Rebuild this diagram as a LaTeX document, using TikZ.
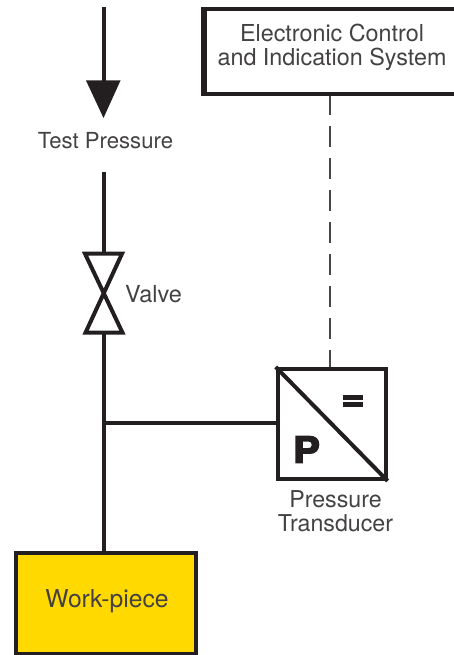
\documentclass[tikz,border=0pt]{standalone}
\usepackage{fontspec}
\setmainfont{TeX Gyre Heros}
\newfontfamily\heavyfont[FakeBold=4,FakeStretch=1.12]{TeX Gyre Heros Bold}
\definecolor{ink}{HTML}{231F20}
\definecolor{soft}{HTML}{444142}
\definecolor{dashgrey}{HTML}{4A4748}
\definecolor{workyellow}{HTML}{FFD900}
\tikzset{
 x=0.75pt,y=-0.75pt,
 lbl/.style={text=soft,align=center,inner sep=0pt},
 pipe/.style={draw=ink,line width=3pt},
 boxline/.style={draw=ink,line width=3pt},
}
\begin{document}
\begin{tikzpicture}
\useasboundingbox (0,0) rectangle (453,655);
\coordinate (top) at (103.5,7);
\coordinate (headbase) at (103.5,81);
\coordinate (tip) at (103.5,118);
\coordinate (pipetop) at (103.5,172);
\coordinate (valveT) at (103.5,254);
\coordinate (valveB) at (103.5,333);
\coordinate (tee) at (103.5,422.5);
\coordinate (wtop) at (103.5,553);
\draw[pipe] (top) -- (headbase);
\fill[ink] (86,80.5) -- (120.5,80.5) -- (tip) -- cycle;
\node[lbl,font=\fontsize{16.6}{19}\selectfont] (tp) at (105.5,141) {Test Pressure};
\draw[pipe] (pipetop) -- (valveT);
\draw[pipe] (85,253.7) -- (122,253.7) -- (85.5,332.7) -- (122.5,332.7) -- cycle;
\node[lbl,font=\fontsize{17.6}{19}\selectfont] (valve) at (153.5,294) {Valve};
\draw[pipe] (valveB) -- (wtop);
\node[boxline,fill=white,minimum width=199.5pt,minimum height=63.4pt] (ecs) at (337.5,51.7) {};
\draw[draw=ink,line width=4pt] ([xshift=1.1pt]ecs.north west) -- ([xshift=1.1pt]ecs.south west);
\node[lbl,font=\fontsize{17.5}{18}\selectfont] (ecstext) at (332,47.5) {Electronic Control\\and Indication System};
\node[boxline,fill=white,minimum width=81pt,minimum height=82.5pt,inner sep=0pt] (pt) at (331.7,424) {};
\draw[draw=dashgrey,line width=1.5pt,dash pattern=on 16pt off 8pt,dash phase=1.5pt] (ecs.south -| 330,0) -- (pt.north -| 330,0);
\draw[pipe] (tee) -- (tee -| pt.west);
\draw[boxline] (pt.north west) -- (pt.south east);
\fill[ink] (343,395) rectangle (363,399.5);
\fill[ink] (343,402) rectangle (363,406.5);
\node[text=ink,font=\heavyfont\fontsize{27}{27}\selectfont,inner sep=0pt] (p) at (306.5,449.5) {P};
\node[lbl,font=\fontsize{17.4}{18}\selectfont] (ptl) at (335.5,511) {Pressure\\Transducer};
\node[boxline,fill=workyellow,minimum width=135pt,minimum height=75.5pt] (wp) at (106,603.5) {};
\node[lbl,font=\fontsize{18.5}{20}\selectfont] (wpt) at (107,601.5) {Work-piece};
\end{tikzpicture}
\end{document}
